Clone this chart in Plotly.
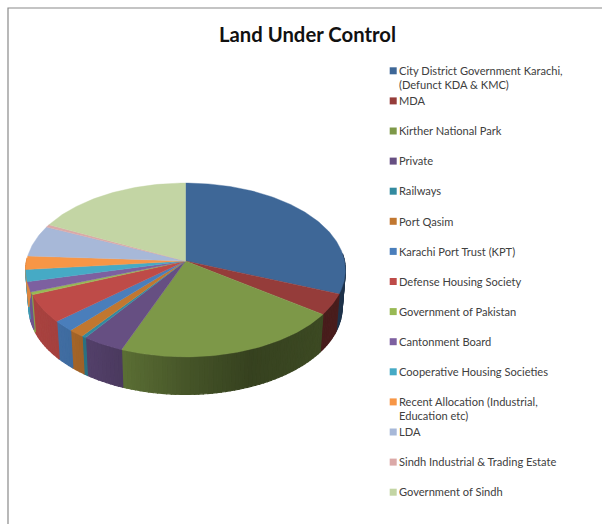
import numpy as np
import plotly.graph_objects as go

categories = [
    "City District Government Karachi,<br>(Defunct KDA &amp; KMC)", "MDA", "Kirther National Park", "Private",
    "Railways", "Port Qasim", "Karachi Port Trust (KPT)", "Defense Housing Society",
    "Government of Pakistan", "Cantonment Board", "Cooperative Housing Societies",
    "Recent Allocation (Industrial,<br>Education etc)", "LDA", "Sindh Industrial &amp; Trading Estate",
    "Government of Sindh",
]
values = [31.0, 3.9, 21.0, 3.85, 0.4, 1.45, 2.0, 5.2, 0.5, 1.9, 2.2, 2.5, 5.8, 0.5, 17.75]
colors = ["#3E6797", "#953C3A", "#7D9848", "#664F82", "#338A9F", "#C17730", "#4A7EBB", "#BE4B48",
          "#98B954", "#7D60A0", "#46AAC5", "#F79646", "#A7B8D8", "#DBA9A8", "#C3D5A4"]
title = "Land Under Control"

# Projection of the tilted disc, in page pixels
CX, CY, RX, RY, PERSP, DEPTH = 185.5, 261.0, 159.0, 86.0, 0.1034, 37.5
SHADE_X = [20, 70, 120, 190, 250, 320, 350]
SHADE_F = [0.90, 0.85, 0.73, 0.55, 0.43, 0.48, 0.50]


def project(clock_deg):
    a = np.radians(clock_deg)
    s, c = np.cos(a), np.sin(a)
    w = 1 + PERSP * s
    return CX + RX * c / w, CY - RY * s / w


def darker(hex_color, f):
    r, g, b = (int(hex_color[i:i + 2], 16) for i in (1, 3, 5))
    return f"rgb({r * f:.0f},{g * f:.0f},{b * f:.0f})"


fig = go.Figure()
edges = np.concatenate([[0], np.cumsum(values)]) / sum(values) * 360

# Side wall
for i, color in enumerate(colors):
    lo, hi = max(edges[i], 85.0), min(edges[i + 1], 272.0)
    if hi <= lo:
        continue
    n = max(1, int((hi - lo) / 1.5))
    steps = np.linspace(lo, hi, n + 1)
    for a0, a1 in zip(steps[:-1], steps[1:]):
        arc = np.array([a0, a1])
        x, y = project(arc)
        bx = CX + 0.98 * (x - CX)
        by = y + DEPTH
        shade = darker(color, float(np.interp(x.mean(), SHADE_X, SHADE_F)))
        fig.add_trace(go.Scatter(
            x=np.concatenate([x, bx[::-1], x[:1]]), y=np.concatenate([y, by[::-1], y[:1]]),
            mode="lines", fill="toself", fillcolor=shade, line=dict(color=shade, width=1.2),
            hoverinfo="skip", showlegend=False,
        ))

# Top face
for i, color in enumerate(colors):
    arc = np.linspace(edges[i], edges[i + 1], max(3, int(edges[i + 1] - edges[i]) + 2))
    x, y = project(arc)
    fig.add_trace(go.Scatter(
        x=np.concatenate([[CX], x, [CX]]), y=np.concatenate([[CY], y, [CY]]),
        mode="lines", fill="toself", fillcolor=color, line=dict(color=color, width=0.4),
        name=categories[i].replace("<br>", " "), showlegend=False,
    ))

# Legend
LEG_TOP, LEG_STEP = 70.8, 30.1
for i, (cat, color) in enumerate(zip(categories, colors)):
    ly = LEG_TOP + i * LEG_STEP
    fig.add_trace(go.Scatter(
        x=[393.2], y=[ly], mode="markers", hoverinfo="skip", showlegend=False,
        marker=dict(symbol="square", size=7, color=color, line=dict(width=0)),
    ))
    fig.add_annotation(
        x=397.8, y=ly - 7.8, text=cat, showarrow=False, xanchor="left", yanchor="top", align="left",
        borderpad=0, font=dict(family="Lato", size=11.1, color="#404040"),
    )

fig.add_annotation(
    x=307.5, y=34, text=f"<b>{title}</b>", showarrow=False, xanchor="center", yanchor="middle",
    font=dict(family="Lato", size=20.3, color="#111111"),
)

fig.add_shape(type="rect", x0=8, y0=8, x1=640, y1=560, line=dict(color="#8a8a8a", width=1.2), layer="below")

fig.update_layout(
    width=602, height=524, margin=dict(l=0, r=0, t=0, b=0), showlegend=False,
    paper_bgcolor="white", plot_bgcolor="white",
    xaxis=dict(range=[0, 602], visible=False, fixedrange=True),
    yaxis=dict(range=[524, 0], visible=False, fixedrange=True),
)
fig.write_html("out.html", post_script="document.body.style.margin='0';", config=dict(displayModeBar=False))
